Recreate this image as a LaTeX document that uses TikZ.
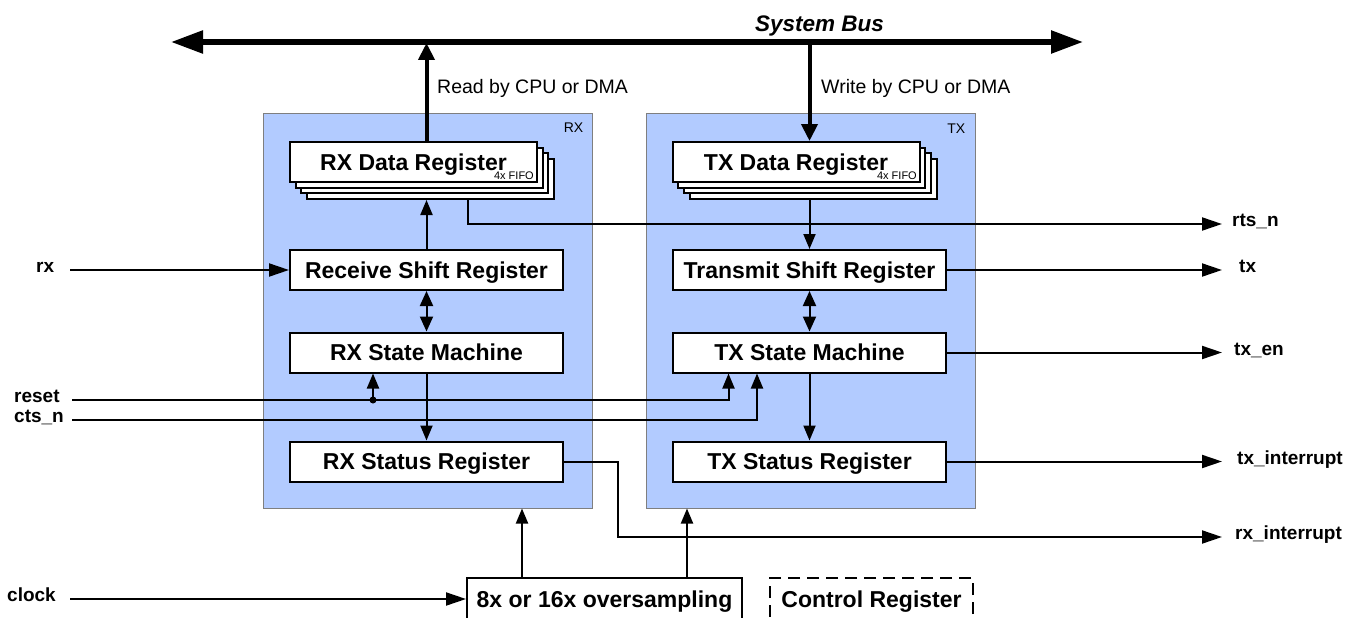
\documentclass[tikz,border=0pt]{standalone}
\usepackage{fontspec}
\setmainfont{Liberation Sans}
\usetikzlibrary{arrows.meta}
\definecolor{boxblue}{HTML}{B2CBFF}
\definecolor{boxedge}{HTML}{7F7F7F}
\begin{document}
\begin{tikzpicture}[x=1pt,y=-1pt,
  bluebox/.style={draw=boxedge, fill=boxblue, line width=1pt, minimum width=329pt, minimum height=395pt, inner sep=0pt},
  blk/.style={draw=black, line width=2pt, fill=white, minimum width=273pt, minimum height=40pt, inner sep=0pt,
     font=\fontsize{23}{26}\selectfont\bfseries, text height=16.5pt, text depth=0pt},
  dreg/.style={blk, minimum width=247pt},
  sig/.style={inner sep=0pt, anchor=mid west, font=\fontsize{19}{22}\selectfont\bfseries},
  boxlbl/.style={inner sep=0pt, anchor=base east, font=\fontsize{14}{16}\selectfont},
  fifo/.style={inner sep=0pt, anchor=base east, font=\fontsize{11}{13}\selectfont},
  note/.style={inner sep=0pt, anchor=base west, font=\fontsize{19.5}{22}\selectfont},
  arr/.style={line width=2pt, -{Triangle[length=15pt,width=12pt]}},
  harr/.style={line width=2pt, -{Triangle[length=20pt,width=13pt]}},
  darr/.style={line width=2pt, {Triangle[length=15pt,width=13pt]}-{Triangle[length=15pt,width=13pt]}},
  tarr/.style={line width=4pt, -{Triangle[length=17pt,width=16pt]}},
  busline/.style={line width=5.5pt, {Triangle[length=32pt,width=22pt]}-{Triangle[length=32pt,width=22pt]}},
  ln/.style={line width=2pt}
]
\path[use as bounding box, clip] (0,0) rectangle (1358,618);

% system bus
\coordinate (busL) at (171,42);
\coordinate (busR) at (1083,42);
\draw[busline] (busL) -- (busR);
\node[inner sep=0pt, anchor=base west, font=\fontsize{22.5}{25}\selectfont\bfseries\itshape] (busname) at (755,32) {System Bus};

% blue boxes
\node[bluebox] (rxbox) at (427.5,310.5) {};
\node[bluebox] (txbox) at (810.5,310.5) {};
\node[boxlbl] (rxlbl) at ([shift={(-9,20)}]rxbox.north east) {RX};
\node[boxlbl] (txlbl) at ([shift={(-10,21)}]txbox.north east) {TX};

% RX data register stack
\node[dreg] (rxdata3) at (430.5,179) {};
\node[dreg] (rxdata2) at (424.8,173.3) {};
\node[dreg] (rxdata1) at (419.1,167.6) {};
\node[dreg] (rxdata) at (413.5,162) {RX Data Register};
\node[fifo] (rxfifo) at (534,179) {4x FIFO};

% TX data register stack
\node[dreg] (txdata3) at (813,179) {};
\node[dreg] (txdata2) at (807.3,173.3) {};
\node[dreg] (txdata1) at (801.6,167.6) {};
\node[dreg] (txdata) at (796,162) {TX Data Register};
\node[fifo] (txfifo) at (917,179) {4x FIFO};

% other registers
\node[blk] (rxshift) at (426.5,270) {Receive Shift Register};
\node[blk] (rxsm) at (426.5,352.5) {RX State Machine};
\node[blk] (rxstat) at (426.5,461.5) {RX Status Register};
\node[blk] (txshift) at (809.5,270) {Transmit Shift Register};
\node[blk] (txsm) at (809.5,352.5) {TX State Machine};
\node[blk] (txstat) at (809.5,461.5) {TX Status Register};
\node[blk, minimum width=275pt, minimum height=42pt] (overs) at (604.5,599) {8x or 16x oversampling};
\node[blk, dash pattern=on 12pt off 7pt, minimum width=203pt, minimum height=42pt] (ctrl) at (871.5,599) {Control Register};

% bus connectors
\node[note] (readlbl) at (437,94) {Read by CPU or DMA};
\node[note] (writelbl) at (821,94) {Write by CPU or DMA};
\draw[tarr, shorten >=1pt] (rxdata.north -| rxshift.north) -- (busL -| rxshift.north);
\draw[tarr] (busL -| txshift.north) -- (txdata.north -| txshift.north);

% RX column
\draw[arr] (rxshift.north) -- (rxshift.north |- rxdata3.south);
\draw[darr] (rxshift.south) -- (rxsm.north);
\draw[arr] (rxsm.south) -- (rxstat.north);

% TX column
\draw[arr] (txshift.north |- txdata3.south) -- (txshift.north);
\draw[darr] (txshift.south) -- (txsm.north);
\draw[arr] (txsm.south) -- (txstat.north);

% left signals
\node[sig] (lrx) at (36,270) {rx};
\node[sig] (lreset) at (14,400) {reset};
\node[sig] (lcts) at (14,420) {cts\_n};
\node[sig] (lclock) at (7,599) {clock};
\coordinate (rxin) at (70,270);
\coordinate (rststart) at (72,400);
\coordinate (ctsstart) at (72,420);
\coordinate (clkstart) at (70,599);
\draw[harr] (rxin) -- (rxshift.west);
\coordinate (rsmx) at ([xshift=-53.5pt]rxsm.south);
\coordinate (rstdot) at (rsmx |- rststart);
\coordinate (tsmr) at ([xshift=-81pt]txsm.south);
\coordinate (tsmc) at ([xshift=-52.5pt]txsm.south);
\draw[arr] (rststart) -| (tsmr);
\draw[arr] (ctsstart) -| (tsmc);
\fill (rstdot) circle (3.5pt);
\draw[arr] (rstdot) -- (rsmx);
\draw[harr] (clkstart) -- (overs.west);

% oversampling to boxes
\coordinate (o1) at ([xshift=-82.5pt]overs.north);
\coordinate (o2) at ([xshift=82.5pt]overs.north);
\draw[arr] (o1) -- (o1 |- rxbox.south);
\draw[arr] (o2) -- (o2 |- txbox.south);

% right signals
\node[sig] (lrts) at (1232,224) {rts\_n};
\node[sig] (ltx) at (1239,270) {tx};
\node[sig] (ltxen) at (1234,352.5) {tx\_en};
\node[sig] (ltxint) at (1237,461.5) {tx\_interrupt};
\node[sig] (lrxint) at (1235,537) {rx\_interrupt};
\coordinate (rtsend) at (1222,224);
\coordinate (rxbend) at (618,537);
\coordinate (rxintend) at (1222,537);
\coordinate (rtsx) at ([xshift=37.5pt]rxdata3.south);
\draw[harr] (rtsx) |- (rtsend);
\draw[harr] (txshift.east) -- (txshift.east -| rtsend);
\draw[harr] (txsm.east) -- (txsm.east -| rtsend);
\draw[harr] (txstat.east) -- (txstat.east -| rtsend);
\draw[harr] (rxstat.east) -| (rxbend) -- (rxintend);
\end{tikzpicture}
\end{document}
